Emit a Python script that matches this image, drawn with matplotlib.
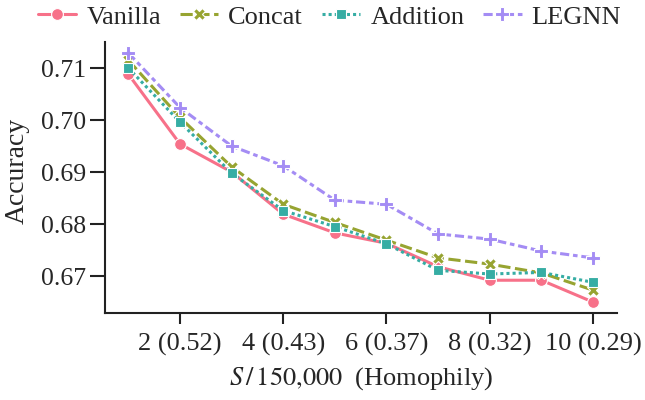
import matplotlib
matplotlib.use("Agg")
import matplotlib.pyplot as plt
import seaborn as sns

x_vals = [1, 2, 3, 4, 5, 6, 7, 8, 9, 10]
vanilla = [0.7088, 0.6954, 0.6900, 0.6819, 0.6783, 0.6763, 0.6718, 0.6692, 0.6692, 0.6650]
concat = [0.7115, 0.7005, 0.6910, 0.6838, 0.6803, 0.6769, 0.6735, 0.6723, 0.6706, 0.6673]
addition = [0.7100, 0.6996, 0.6898, 0.6826, 0.6795, 0.6762, 0.6711, 0.6704, 0.6707, 0.6688]
legnn = [0.7129, 0.7024, 0.6950, 0.6912, 0.6846, 0.6838, 0.6781, 0.6771, 0.6748, 0.6735]
series_names = ["Vanilla", "Concat", "Addition", "LEGNN"]
xtick_vals = [2, 4, 6, 8, 10]
xtick_labels = ["2 (0.52)", "4 (0.43)", "6 (0.37)", "8 (0.32)", "10 (0.29)"]
ytick_vals = [0.67, 0.68, 0.69, 0.70, 0.71]

sns.set_theme(style="ticks")
plt.rcParams["font.family"] = ["Liberation Serif", "DejaVu Serif"]
plt.rcParams["mathtext.fontset"] = "stix"

colors = sns.color_palette("husl", 4)
markers = ["o", "X", "s", "P"]
dashes = [(None, None), (4, 1.5), (1, 1), (3, 1.25, 1.5, 1.25)]
sizes = [8.5, 8.5, 7.5, 9.5]

fig = plt.figure(figsize=(6.45, 4.0), dpi=100)
ax = fig.add_axes([0.163, 0.2175, 0.794, 0.6775])

data = [vanilla, concat, addition, legnn]
for name, ys, c, m, d, s in zip(series_names, data, colors, markers, dashes, sizes):
    line, = ax.plot(x_vals, ys, color=c, marker=m, markersize=s, lw=2.2,
                    markeredgecolor="white", markeredgewidth=0.8, label=name)
    if d[0] is not None:
        line.set_dashes(d)

ax.set_xlim(0.55, 10.47)
ax.set_ylim(0.6629, 0.715)
ax.set_xticks(xtick_vals)
ax.set_xticklabels(xtick_labels)
ax.set_yticks(ytick_vals)
ax.set_yticklabels([f"{v:.2f}" for v in ytick_vals])
ax.tick_params(labelsize=19, width=1.5, color="#222222")
ax.tick_params(axis="x", length=8, pad=6)
ax.tick_params(axis="y", length=11, pad=3, labelsize=18.5)
for sp in ["left", "bottom"]:
    ax.spines[sp].set_linewidth(1.5)
    ax.spines[sp].set_color("#222222")
sns.despine(ax=ax)
ax.set_ylabel("Accuracy", fontsize=20)
ax.yaxis.set_label_coords(-0.148, 0.524)
ax.set_xlabel(r"$S\,/\,150{,}000$  (Homophily)", fontsize=19, labelpad=7)

fig.legend(loc="center", bbox_to_anchor=(0.511, 0.958), ncol=4, frameon=False,
           fontsize=19, handlelength=1.45, columnspacing=0.72, handletextpad=0.38)

fig.savefig("out.png", dpi=100)
